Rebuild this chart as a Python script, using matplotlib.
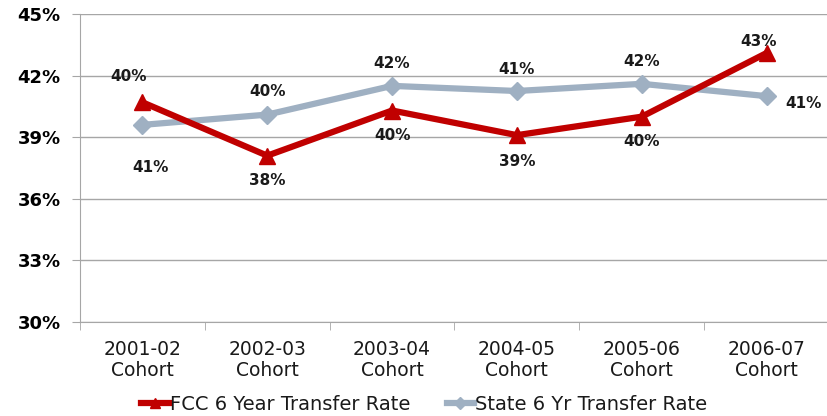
import matplotlib
matplotlib.use("Agg")
import matplotlib.pyplot as plt
from matplotlib.ticker import FixedLocator

cohorts = ["2001-02\nCohort", "2002-03\nCohort", "2003-04\nCohort",
           "2004-05\nCohort", "2005-06\nCohort", "2006-07\nCohort"]
fcc_rate = [40.7, 38.1, 40.3, 39.1, 40.0, 43.1]
state_rate = [39.6, 40.1, 41.5, 41.25, 41.6, 41.0]
# labels as printed on the original chart
fcc_labels = ["40%", "38%", "40%", "39%", "40%", "43%"]
state_labels = ["41%", "40%", "42%", "41%", "42%", "41%"]
y_ticks = [30, 33, 36, 39, 42, 45]

red = "#C00000"
steel = "#9FB0C2"
grid_c = "#A6A6A6"

fig = plt.figure(figsize=(8.27, 4.16), dpi=100)
ax = fig.add_axes([80 / 827, 1 - 322 / 416, 749 / 827, 308 / 416])

x = list(range(len(cohorts)))
ax.plot(x, fcc_rate, color=red, lw=4.5, marker="^", ms=12,
        label="FCC 6 Year Transfer Rate", zorder=3)
ax.plot(x, state_rate, color=steel, lw=4.5, marker="D", ms=9.5,
        label="State 6 Yr Transfer Rate", zorder=2)

# label offsets in pixels (dx, dy)
fcc_off = [(-14, 26), (0, -25), (0, -25), (0, -26), (0, -25), (-8, 12)]
state_off = [(8, -43), (0, 23), (0, 22), (0, 22), (0, 22), (37, -7)]
for i in x:
    ax.annotate(fcc_labels[i], (i, fcc_rate[i]), xytext=fcc_off[i],
                textcoords="offset pixels", ha="center", va="center",
                fontsize=11, fontweight="bold", color="#1a1a1a")
    ax.annotate(state_labels[i], (i, state_rate[i]), xytext=state_off[i],
                textcoords="offset pixels", ha="center", va="center",
                fontsize=11, fontweight="bold", color="#1a1a1a")

ax.set_ylim(30, 45)
ax.set_xlim(-0.5, len(cohorts) - 0.5)
ax.set_yticks(y_ticks)
ax.set_yticklabels([f"{v}%" for v in y_ticks], fontsize=13, fontweight="bold")
ax.yaxis.grid(True, color=grid_c, lw=1)
ax.set_axisbelow(True)

ax.set_xticks(x)
ax.set_xticklabels(cohorts, fontsize=13.5, linespacing=1.1, color="#1a1a1a")
ax.xaxis.set_minor_locator(FixedLocator([i - 0.5 for i in range(len(cohorts) + 1)]))
ax.tick_params(axis="x", which="major", length=0, pad=13)
ax.tick_params(axis="x", which="minor", length=6, color=grid_c, direction="out")
ax.tick_params(axis="y", length=6, color=grid_c, pad=8)

for side in ["top", "right"]:
    ax.spines[side].set_visible(False)
for side in ["left", "bottom"]:
    ax.spines[side].set_color(grid_c)

leg = fig.legend(loc="center", bbox_to_anchor=(0.513, 0.027), ncol=2, frameon=False,
                 prop={"size": 14}, markerscale=0.6,
                 handlelength=1.4, handletextpad=0.05, columnspacing=1.9)
for t in leg.get_texts():
    t.set_color("#1a1a1a")

fig.savefig("out.png", dpi=100)
